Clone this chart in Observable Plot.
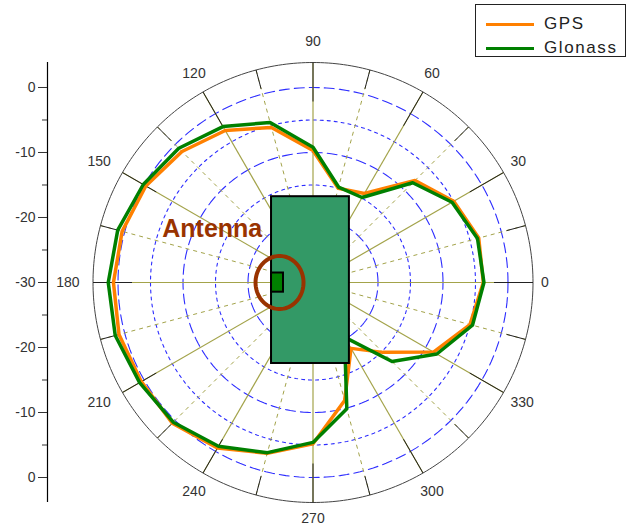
<!DOCTYPE html>
<html>
<head>
<meta charset="utf-8">
<script src="https://cdn.jsdelivr.net/npm/d3@7"></script>
<script src="https://cdn.jsdelivr.net/npm/@observablehq/plot@0.6"></script>
<style>
  body { margin: 0; background: #fff; }
  #wrap { position: relative; width: 630px; height: 529px; font-family: "Liberation Sans", Arial, sans-serif; }
  #legend { position: absolute; left: 475px; top: 4px; width: 151px; height: 53px; border: 1px solid #222; background: #fff; box-sizing: border-box; }
  .row { position: absolute; left: 10px; height: 20px; display: flex; align-items: center; }
  .sw { width: 48px; height: 3px; margin-right: 10px; }
  .lt { font-size: 17px; letter-spacing: 1.6px; color: #222; }
</style>
</head>
<body>
<div id="wrap">
  <div id="chart"></div>
  <div id="legend">
    <div class="row" style="top:9px"><div class="sw" style="background:#ff8000"></div><span class="lt">GPS</span></div>
    <div class="row" style="top:33px"><div class="sw" style="background:#008000"></div><span class="lt">Glonass</span></div>
  </div>
</div>
<script>
// ---- data (dB, -30 at centre) ----
const angles  = [0,15,30,45,60,75,90,105,120,135,150,165,180,195,210,225,240,255,270,285,300,315,330,345];
const gps     = [-3.8,-3.6,-5.0,-7.8,-14.2,-15.0,-9.7,-5.3,-3.0,-1.5,-0.3,0.4,0.7,0.9,0.5,0.6,-0.6,-2.8,-5.2,-11.2,-18.3,-14.8,-8.6,-5.0];
const glonass = [-3.7,-3.8,-5.3,-8.3,-14.9,-14.8,-9.2,-4.5,-2.3,-0.8,0.15,1.1,1.5,1.5,0.8,0.4,-0.9,-2.9,-5.4,-9.9,-20.3,-12.8,-8.0,-4.6];
const ringMajor = [-20, -10, 0];
const ringMinor = [-25, -15, -5];
const angleLabels = [0,30,60,90,120,150,180,210,240,270,300,330];
const spokeMinor = [15,45,75,105,135,165,195,225,255,285,315,345];
const yTicksMajor = [-30,-20,-10,0,10,20,30];
const yTicksMinor = [-25,-15,-5,5,15,25];
const rMin = -30, rMax = 3.846;
// antenna annotation (in chart units)
const antennaBox = [{x1: -6.38, x2: 5.6, y1: -12.46, y2: 13.2}];
const feedBox = [{x1: -6.38, x2: -4.54, y1: -1.49, y2: 1.46}];
const feedRing = {cx: -5.15, cy: 0, rx: 3.69, ry: 4.08};
const antennaLabel = [{x: -15.5, y: 8.3, text: "Antenna"}];

const R = rMax - rMin;
const rad = a => a * Math.PI / 180;
const toXY = (a, db) => ({x: (db - rMin) * Math.cos(rad(a)), y: (db - rMin) * Math.sin(rad(a))});
const series = (vals, name) => angles.map((a, i) => ({...toXY(a, vals[i]), name}));
const ringPts = rings => rings.flatMap(db => d3.range(0, 360, 2).map(a => ({...toXY(a, db), db})));
const spokes = list => list.map(a => ({x1: 0, y1: 0, x2: R * Math.cos(rad(a)), y2: R * Math.sin(rad(a))}));
const ticksOn = (list, len) => list.map(a => ({x1: (R - len) * Math.cos(rad(a)), y1: (R - len) * Math.sin(rad(a)), x2: R * Math.cos(rad(a)), y2: R * Math.sin(rad(a))}));
const outer = d3.range(0, 360, 1).map(a => ({x: R * Math.cos(rad(a)), y: R * Math.sin(rad(a))}));
const ellipse = d3.range(0, 360, 4).map(a => ({x: feedRing.cx + feedRing.rx * Math.cos(rad(a)), y: feedRing.cy + feedRing.ry * Math.sin(rad(a))}));

// angle labels: anchored by side of the circle
const side = a => Math.cos(rad(a)) > 0.6 ? "start" : Math.cos(rad(a)) < -0.6 ? "end" : "middle";
const labRx = {start: 228 / 6.5, end: 233.5 / 6.5, middle: 238 / 6.5};
const labRy = 241 / 6.5;
const labYmin = -236 / 6.5; // keep the bottom label inside the frame
const angleText = anchor => Plot.text(angleLabels.filter(a => side(a) === anchor), {
  x: a => labRx[anchor] * Math.cos(rad(a)), y: a => Math.max(labYmin, labRy * Math.sin(rad(a))),
  text: a => String(a), textAnchor: anchor, fontSize: 14, fill: "#333", letterSpacing: 1
});

const chart = Plot.plot({
  width: 630, height: 529,
  marginLeft: 92.5, marginRight: 97.5, marginTop: 62, marginBottom: 27,
  x: {domain: [-R, R], axis: null},
  y: {domain: [-R, R], axis: null},
  style: {fontFamily: "Liberation Sans, Arial, sans-serif", fontSize: "14px", color: "#333"},
  marks: [
    Plot.line(ringPts(ringMinor), {x: "x", y: "y", z: "db", curve: "linear-closed", stroke: "#2d2dff", strokeWidth: 1.1, strokeDasharray: "3,4"}),
    Plot.line(ringPts(ringMajor), {x: "x", y: "y", z: "db", curve: "linear-closed", stroke: "#2d2dff", strokeWidth: 1.1, strokeDasharray: "10,5"}),
    Plot.link(spokes(spokeMinor), {x1: "x1", y1: "y1", x2: "x2", y2: "y2", stroke: "#a3a34a", strokeWidth: 1, strokeDasharray: "4,4"}),
    Plot.link(spokes(angleLabels), {x1: "x1", y1: "y1", x2: "x2", y2: "y2", stroke: "#a3a34a", strokeWidth: 1.2}),
    Plot.line(outer, {x: "x", y: "y", curve: "linear-closed", stroke: "#444", strokeWidth: 1}),
    Plot.link(ticksOn(angleLabels, 6), {x1: "x1", y1: "y1", x2: "x2", y2: "y2", stroke: "#222", strokeWidth: 1}),
    Plot.link(ticksOn(spokeMinor, 3), {x1: "x1", y1: "y1", x2: "x2", y2: "y2", stroke: "#222", strokeWidth: 1}),
    angleText("start"), angleText("end"), angleText("middle"),
    Plot.line(series(gps, "GPS"), {x: "x", y: "y", curve: "linear-closed", stroke: "#ff8000", strokeWidth: 3.5, strokeLinejoin: "round"}),
    Plot.line(series(glonass, "Glonass"), {x: "x", y: "y", curve: "linear-closed", stroke: "#008000", strokeWidth: 3.5, strokeLinejoin: "round"}),
    Plot.rect(antennaBox, {x1: "x1", x2: "x2", y1: "y1", y2: "y2", fill: "#339966", stroke: "#000", strokeWidth: 2}),
    Plot.rect(feedBox, {x1: "x1", x2: "x2", y1: "y1", y2: "y2", fill: "#008000", stroke: "#000", strokeWidth: 2}),
    Plot.line(ellipse, {x: "x", y: "y", curve: "linear-closed", stroke: "#993300", strokeWidth: 4}),
    Plot.text(antennaLabel, {x: "x", y: "y", text: "text", fill: "#993300", fontSize: 25, fontWeight: "bold", lineAnchor: "middle"}),
    // left radial axis
    Plot.ruleX([-R], {y1: -R, y2: R, dx: -45.5, stroke: "#000", strokeWidth: 1.2}),
    Plot.axisY({ticks: yTicksMajor, anchor: "left", dx: -45.5, tickSize: 9, tickPadding: 3, fontSize: 14, letterSpacing: 1, tickFormat: d => `${Math.abs(d) + rMin}`, stroke: "#333", fill: "#333"}),
    Plot.axisY({ticks: yTicksMinor, anchor: "left", dx: -45.5, tickSize: 5, tickFormat: () => "", stroke: "#333"})
  ]
});
document.getElementById("chart").appendChild(chart);
</script>
</body>
</html>
